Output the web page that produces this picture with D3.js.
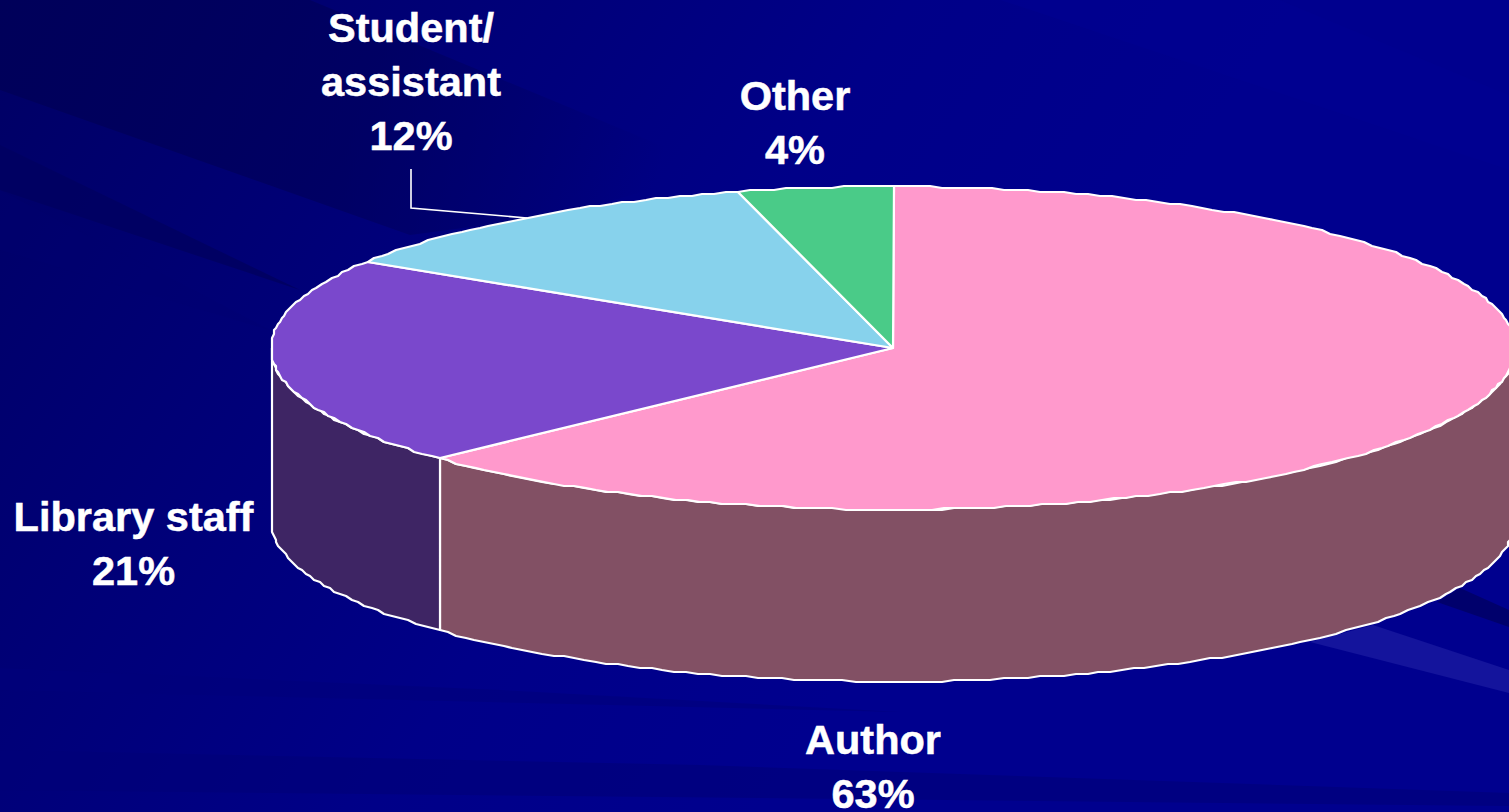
<!DOCTYPE html>
<html><head><meta charset="utf-8">
<script src="https://cdn.jsdelivr.net/npm/d3@7/dist/d3.min.js"></script>
<style>html,body{margin:0;padding:0;background:#000088;overflow:hidden}svg{display:block}text{font-family:"Liberation Sans",Arial,sans-serif;font-weight:700;font-size:41.5px;fill:#fff;stroke:#fff;stroke-width:0.5px;text-anchor:middle}</style>
</head><body><svg id="c" width="1509" height="812"></svg>
<script>
const categories = ["Author","Library staff","Student/assistant","Other"];
const values = [63,21,12,4];
const topColors = ["#FF99CC","#7A48CC","#87D2EC","#4ACB88"];
const sideColors = ["#825064","#3E2564","#457080","#27664a"];
const labelLines = [["Author","63%"],["Library staff","21%"],["Student/","assistant","12%"],["Other","4%"]];
const labelPos = [[873,754],[133.5,531],[411,42],[795,110]];

const svg = d3.select("#c");
const defs = svg.append("defs");
const g = defs.append("linearGradient").attr("id","bg").attr("gradientUnits","userSpaceOnUse").attr("x1",0).attr("y1",0).attr("x2",900).attr("y2",600);
[[0,"#000064"],[0.35,"#000076"],[0.7,"#000088"],[1,"#00008e"]].forEach(s=>g.append("stop").attr("offset",s[0]).attr("stop-color",s[1]));
svg.append("rect").attr("width",1509).attr("height",812).attr("fill","url(#bg)");

const dark = defs.append("linearGradient").attr("id","dark").attr("gradientUnits","userSpaceOnUse").attr("x1",0).attr("y1",0).attr("x2",650).attr("y2",200);
[[0,0.85],[0.55,0.6],[1,0]].forEach(s=>dark.append("stop").attr("offset",s[0]).attr("stop-color","#000058").attr("stop-opacity",s[1]));

// background streaks (decoration)
const streaks = [
 ["M0,0L310,0L720,170L560,215L410,235L0,90Z","url(#dark)",1],
 ["M0,145L300,290L0,190Z","#000062",0.9],
 ["M0,190L270,330L0,250Z","#000070",0.3],
 ["M1000,0L1280,0L1509,95L1509,170Z","#000092",0.5],
 ["M1460,588L1509,610L1509,627L1437,602Z","#00006c",1],
 ["M1373,625L1509,670L1509,693L1310,642Z","#14149c",1],
 ["M0,668L500,690L900,712L0,690Z","#00007c",0.6],
 ["M0,750L700,765L1509,793L1509,806L0,790Z","#000078",0.6]
];
svg.selectAll("path.s").data(streaks).join("path").attr("class","s").attr("d",d=>d[0]).attr("fill",d=>d[1]).attr("opacity",d=>d[2]);

// pie geometry: angle 0 at the top, clockwise, parametric on the ellipse
const x = d3.scaleLinear().domain([-1,1]).range([271,1515]);
const y = d3.scaleLinear().domain([-1,1]).range([186.5,509.5]);
const depth = 172;
const arcs = d3.pie().sort(null).value(d=>d)(values);
const snap = v => Math.round(v/2)*2;
const pt = (a,dz=0) => [snap(x(Math.sin(a))), snap(y(-Math.cos(a)))+dz];
const samples = (a0,a1,dz=0) => {
  const n = Math.max(2,Math.ceil(Math.abs(a1-a0)/0.02));
  return d3.range(n+1).map(i=>pt(a0+(a1-a0)*i/n,dz));
};
const line = d3.line();
const cx = x(0), cy = y(0);

// side walls: only the front half (between 90 deg and 270 deg) is visible
const front = [Math.PI/2, Math.PI*1.5];
const sides = arcs.map((a,i)=>({a0:Math.max(a.startAngle,front[0]),a1:Math.min(a.endAngle,front[1]),i})).filter(d=>d.a1>d.a0);
svg.selectAll("path.side").data(sides).join("path").attr("class","side")
  .attr("d",d=>{
    const up = samples(d.a0,d.a1), down = samples(d.a1,d.a0,depth);
    return line(up.concat(down))+"Z";
  })
  .attr("fill",d=>sideColors[d.i]).attr("stroke","#fff").attr("stroke-width",2.2).attr("stroke-linejoin","round");

// top faces
svg.selectAll("path.top").data(arcs).join("path").attr("class","top")
  .attr("d",a=>line([[cx,cy]].concat(samples(a.startAngle,a.endAngle)))+"Z")
  .attr("fill",(a,i)=>topColors[i]).attr("stroke","#fff").attr("stroke-width",2.2).attr("stroke-linejoin","round");

// leader line for the student slice
const leader = d3.line()([[411,169],[411,208],[527,218]]);
svg.append("path").attr("d",leader).attr("fill","none").attr("stroke","#fff").attr("stroke-width",1.6);

// labels
labelLines.forEach((lines,i)=>{
  lines.forEach((t,j)=>{
    svg.append("text").attr("x",labelPos[i][0]).attr("y",labelPos[i][1]+j*54).text(t);
  });
});
</script></body></html>
